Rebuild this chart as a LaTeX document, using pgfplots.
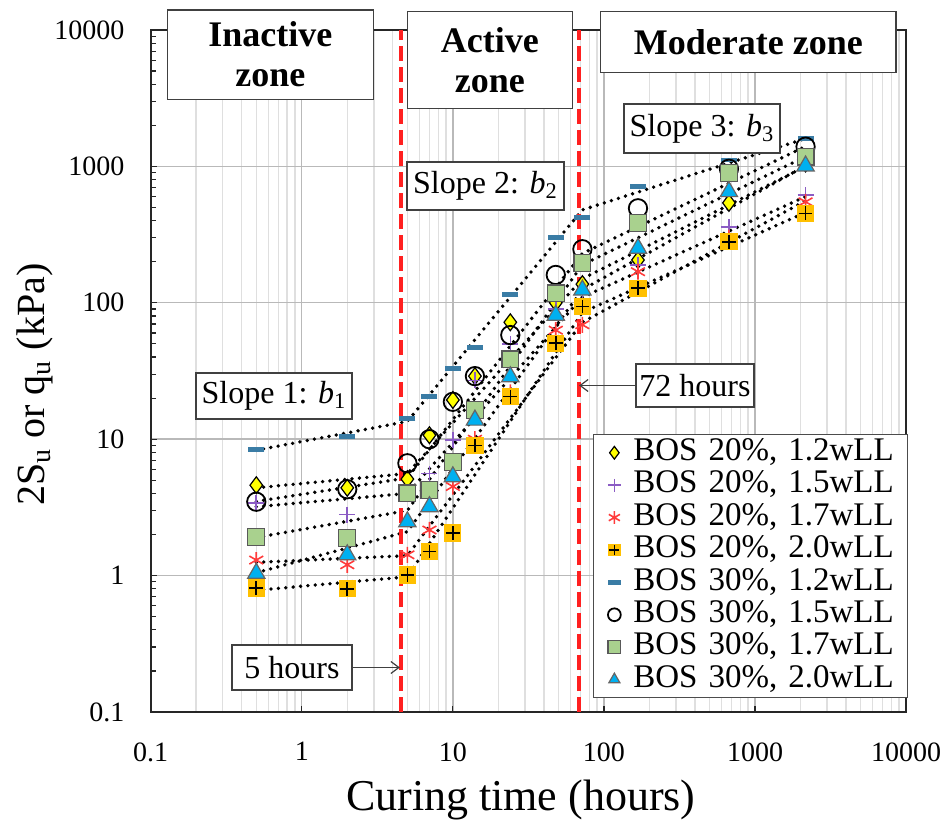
\documentclass[border=0pt]{standalone}
\usepackage{fontspec}
\setmainfont{Liberation Serif}
\usepackage{pgfplots}
\usepackage{pgfplotstable}
\pgfplotsset{compat=1.18}
\usetikzlibrary{arrows.meta}

\definecolor{bosyellow}{HTML}{FFFF00}
\definecolor{bospurple}{HTML}{8B5CC4}
\definecolor{bosred}{HTML}{FF3B3B}
\definecolor{bosorange}{HTML}{FFC000}
\definecolor{bosdash}{HTML}{3A7CA5}
\definecolor{bosgreen}{HTML}{A9D18E}
\definecolor{bosblue}{HTML}{00B0F0}
\definecolor{zonered}{HTML}{FF2020}

% orange square with a black cross on top
\pgfdeclareplotmark{sqplus}{%
  \pgfpathrectangle{\pgfqpoint{-\pgfplotmarksize}{-\pgfplotmarksize}}{\pgfqpoint{2\pgfplotmarksize}{2\pgfplotmarksize}}%
  \pgfsetfillcolor{bosorange}\pgfusepathqfill
  \pgfsetstrokecolor{black}\pgfsetlinewidth{0.8pt}%
  \pgfpathmoveto{\pgfqpoint{-0.8\pgfplotmarksize}{0pt}}\pgfpathlineto{\pgfqpoint{0.8\pgfplotmarksize}{0pt}}%
  \pgfpathmoveto{\pgfqpoint{0pt}{-0.8\pgfplotmarksize}}\pgfpathlineto{\pgfqpoint{0pt}{0.8\pgfplotmarksize}}%
  \pgfusepathqstroke}

% measured strength (kPa) against curing time (hours)
\pgfplotstableread{
t     A     B     C     D     E     F     G     H
0.5   4.6   3.4   1.3   0.81  8.4   3.48  1.91  1.04
2     4.4   2.8   1.2   0.80  10.4  4.3   1.88  1.42
5     5.1   4.0   1.42  1.01  14.2  6.66  4.0   2.48
7     10.7  5.6   2.16  1.5   20.5  10.0  4.24  3.2
10    19.4  9.9   4.5   2.05  33    18.8  6.84  5.3
14    29    27    10    9.0   47    29    16.4  13.8
24    72    50    22    20.5  115   58    38.5  28.7
48    100   90    63    50.5  302   160   117   81
72    137   105   69    94    424   247   195   124
168   206   190   169   128   710   493   383   251
672   540   361   300   280   1114  960   890   653
2160  1050  617   550   453   1600  1395  1178  1007
}\datatab

% three-stage trend lines (break points at 5 h and 72 h)
\pgfplotstableread{
t     A     B     C     D     E     F     G     H
0.5   4.4   3.2   1.25  0.78  8.3   3.5   1.9   1.05
5     5.6   4.0   1.4   0.98  13.5  5.2   3.0   2.1
72    150   110   72    85    480   230   190   125
2160  1000  600   560   460   1600  1400  1180  1010
}\trendtab

\tikzset{trend/.style={black, line width=1.9pt, dash pattern=on 0pt off 3.7pt, line cap=round}}

\begin{document}
\begin{tikzpicture}
\path[use as bounding box] (-75.35pt,-58.5pt) rectangle (398.15pt,356pt);
\begin{axis}[
  at={(0pt,0pt)}, anchor=south west,
  scale only axis, width=377.7pt, height=341pt,
  xmode=log, ymode=log,
  xmin=0.1, xmax=10000, ymin=0.1, ymax=10000,
  xtick={0.1,1,10,100,1000,10000},
  xticklabels={0.1,1,10,100,1000,10000},
  ytick={0.1,1,10,100,1000,10000},
  yticklabels={0.1,1,10,100,1000,10000},
  tick pos=left, tick align=inside,
  major tick length=3pt, minor tick length=2.6pt,
  minor x tick style={draw=none},
  xmajorgrids, xminorgrids, ymajorgrids,
  major grid style={draw=gray!55, line width=0.7pt},
  minor grid style={draw=gray!25, line width=0.7pt},
  axis line style={draw=black!85, line width=0.9pt},
  every tick/.style={black!85, line width=0.6pt},
  tick label style={font=\fontsize{14}{14}\selectfont},
  xticklabel style={anchor=north, inner sep=0pt, yshift=-15pt},
  yticklabel style={anchor=east, inner sep=0pt, xshift=-13pt},
  xlabel={Curing time (hours)},
  ylabel={2S\textsubscript{u} or q\textsubscript{u} (kPa)},
  xlabel style={at={(axis description cs:0.49,-0.129)}, anchor=center, font=\fontsize{22}{22}\selectfont},
  ylabel style={at={(axis description cs:-0.1536,0.48)}, anchor=center, font=\fontsize{20}{20}\selectfont},
  legend style={at={(1.003,0.02)}, anchor=south east, draw=black!70, line width=0.6pt, fill=white,
    font=\fontsize{16.5}{17}\selectfont, inner xsep=2pt, inner ysep=1pt, column sep=2pt,
    nodes={inner sep=1.2pt, text height=10.8pt, text depth=3pt, text width=134pt}},
  legend cell align=left,
  legend image code/.code={%
    \path[draw=none, fill=none] (-8.5pt,0pt) -- (6.3pt,0pt);
    \draw[mark repeat=2,mark phase=2,#1,mark size=3.2pt] plot coordinates {(-4pt,0pt)(0pt,0pt)(4pt,0pt)};},
]
\addplot[only marks, mark=diamond*, mark size=4.2pt, mark options={fill=bosyellow, draw=black, line width=0.6pt}] table[x=t,y=A] {\datatab};
\addlegendentry{BOS 20\%, 1.2wLL}
\addplot[only marks, mark=+, mark size=4pt, bospurple, line width=0.8pt] table[x=t,y=B] {\datatab};
\addlegendentry{BOS 20\%, 1.5wLL}
\addplot[only marks, mark=asterisk, mark size=4pt, bosred, line width=0.8pt] table[x=t,y=C] {\datatab};
\addlegendentry{BOS 20\%, 1.7wLL}
\addplot[only marks, mark=sqplus, mark size=4.3pt] table[x=t,y=D] {\datatab};
\addlegendentry{BOS 20\%, 2.0wLL}
\addplot[only marks, mark=-, mark size=4pt, bosdash, line width=2.4pt] table[x=t,y=E] {\datatab};
\addlegendentry{BOS 30\%, 1.2wLL}
\addplot[only marks, mark=o, mark size=4.6pt, black, line width=0.9pt] table[x=t,y=F] {\datatab};
\addlegendentry{BOS 30\%, 1.5wLL}
\addplot[only marks, mark=square*, mark size=4.2pt, mark options={fill=bosgreen, draw=black!65, line width=0.6pt}] table[x=t,y=G] {\datatab};
\addlegendentry{BOS 30\%, 1.7wLL}
\addplot[only marks, mark=triangle*, mark size=5pt, mark options={fill=bosblue, draw=black!60, line width=0.6pt}] table[x=t,y=H] {\datatab};
\addlegendentry{BOS 30\%, 2.0wLL}

\foreach \s in {A,B,C,D,E,F,G,H}{
  \addplot[trend, forget plot] table[x=t,y=\s] {\trendtab};
}

% zone boundaries at 5 h and 72 h
\draw[zonered, line width=2pt, dash pattern=on 7.5pt off 3pt] (axis cs:4.52,0.1) -- (axis cs:4.52,10000);
\draw[zonered, line width=2pt, dash pattern=on 7.5pt off 3pt] (axis cs:67.9,0.1) -- (axis cs:67.9,10000);
\end{axis}

\tikzset{callout/.style={draw=black!75, line width=0.6pt, fill=white, inner sep=0pt, font=\fontsize{16}{16}\selectfont},
         zonebox/.style={draw=black!75, line width=0.6pt, fill=white, inner sep=0pt, align=center, font=\bfseries\fontsize{18}{20}\selectfont}}

\node[zonebox, minimum width=103pt, minimum height=44.6pt] at (59.8pt,328.7pt) {Inactive\\zone};
\node[zonebox, minimum width=82.5pt, minimum height=48.3pt] at (169.55pt,326pt) {Active\\zone};
\node[zonebox, minimum width=147.6pt, minimum height=30.3pt] at (298.8pt,335pt) {Moderate zone};

\node[callout, minimum width=78pt, minimum height=23pt] at (61.65pt,158pt) {Slope 1: \textit{b}\textsubscript{1}};
\node[callout, minimum width=78.5pt, minimum height=24pt] at (167.4pt,263pt) {Slope 2: \textit{b}\textsubscript{2}};
\node[callout, minimum width=78pt, minimum height=24.5pt] at (275.65pt,291.75pt) {Slope 3: \textit{b}\textsubscript{3}};

\node[callout, minimum width=59pt, minimum height=21.5pt] (h72) at (272.15pt,163.25pt) {72 hours};
\draw[black!75, line width=0.6pt, -{Straight Barb[length=4pt,width=6pt]}] (h72.west) -- (214.2pt,163.25pt);
\node[callout, minimum width=60pt, minimum height=22.5pt] (h5) at (70.65pt,22.25pt) {5 hours};
\draw[black!75, line width=0.6pt, -{Straight Barb[length=4pt,width=6pt]}] (h5.east) -- (124.6pt,22.25pt);
\end{tikzpicture}
\end{document}
